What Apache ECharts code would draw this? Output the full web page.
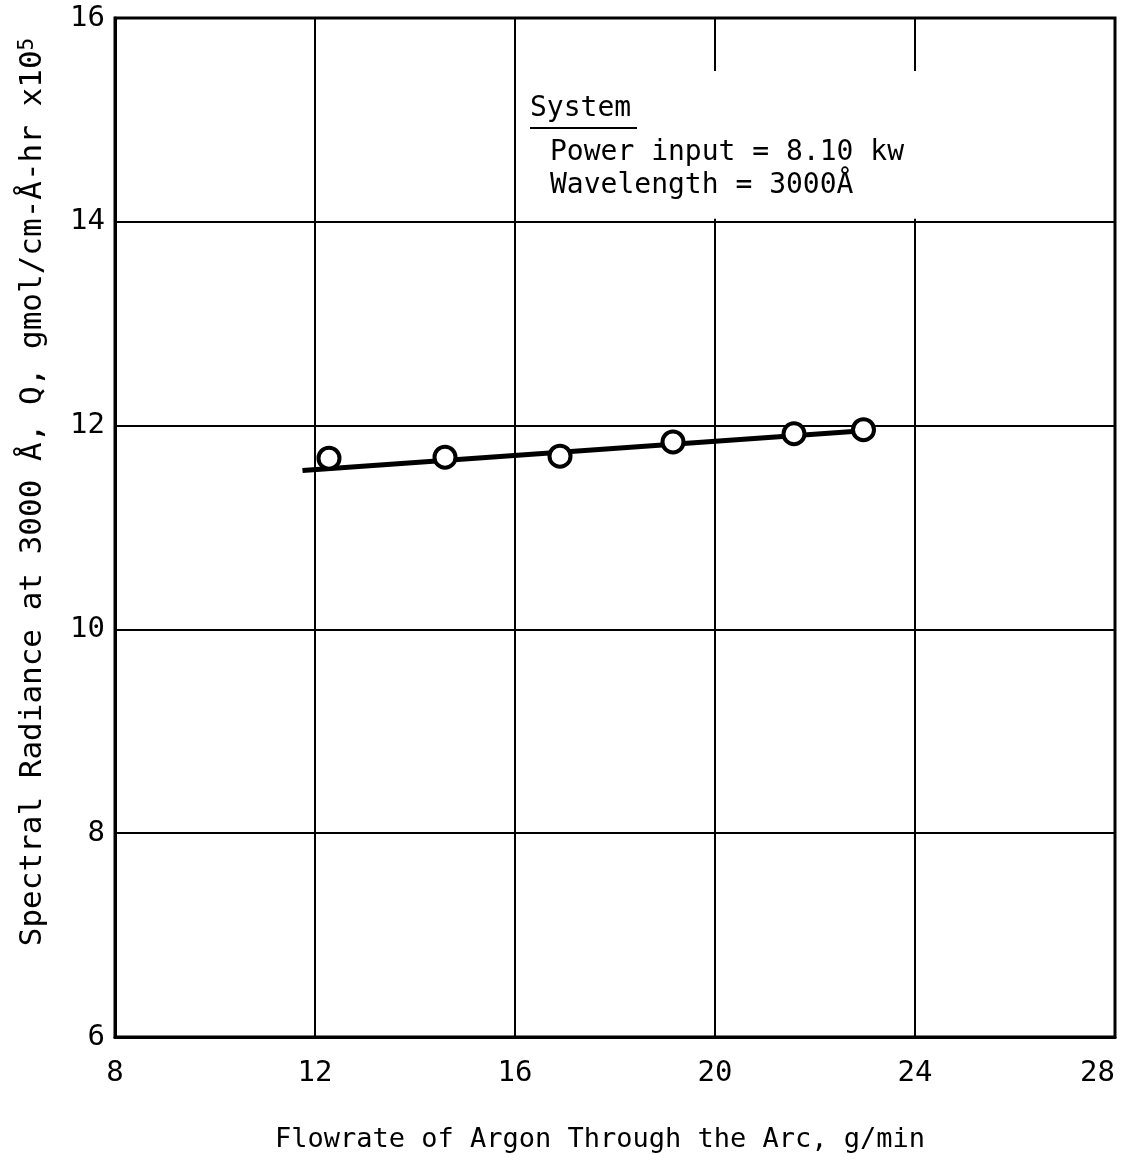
<!DOCTYPE html>
<html>
<head>
<meta charset="utf-8">
<script src="https://cdn.jsdelivr.net/npm/echarts@6/dist/echarts.min.js"></script>
<style>html,body{margin:0;padding:0;background:#fff;overflow:hidden}#c{width:1124px;height:1162px}</style>
</head>
<body>
<div id="c"></div>
<script>
// Data
const flowrate = [12.28, 14.6, 16.9, 19.16, 21.58, 22.97];
const radiance = [11.68, 11.69, 11.70, 11.84, 11.92, 11.96];
const fitX = [11.75, 22.97];
const fitY = [11.56, 11.95];
const xTicks = {min: 8, max: 28, interval: 4};
const yTicks = {min: 6, max: 16, interval: 2};
// region where the drawn grid lines are interrupted (behind the annotation)
const gapX = [19.8, 24.4];
const gapY = [14.03, 15.48];

const FONT = '"DejaVu Sans Mono", "Liberation Mono", monospace';
const chart = echarts.init(document.getElementById('c'), null, {renderer: 'canvas', width: 1124, height: 1162});

chart.setOption({
  backgroundColor: '#fff',
  animation: false,
  grid: {left: 115, top: 18, right: 9, bottom: 125, outerBoundsMode: 'none', containLabel: false,
         show: true, borderColor: '#000', borderWidth: 3, backgroundColor: 'transparent'},
  xAxis: {
    type: 'value', min: xTicks.min, max: xTicks.max, interval: xTicks.interval,
    axisLine: {show: true, lineStyle: {color: '#000', width: 3}},
    axisTick: {show: false},
    splitLine: {show: true, lineStyle: {color: '#000', width: 2}},
    axisLabel: {color: '#000', fontSize: 29, fontFamily: FONT, margin: 22, alignMaxLabel: 'right'}
  },
  yAxis: {
    type: 'value', min: yTicks.min, max: yTicks.max, interval: yTicks.interval,
    axisLine: {show: true, lineStyle: {color: '#000', width: 3}},
    axisTick: {show: false},
    splitLine: {show: true, lineStyle: {color: '#000', width: 2}},
    axisLabel: {color: '#000', fontSize: 29, fontFamily: FONT, margin: 10}
  },
  series: [
    {
      type: 'line',
      data: fitX.map((x, i) => [x, fitY[i]]),
      symbol: 'none',
      lineStyle: {color: '#000', width: 5},
      z: 2,
      markArea: {
        silent: true,
        itemStyle: {color: '#fff', borderWidth: 0},
        data: [[{coord: [gapX[0], gapY[0]]}, {coord: [gapX[1], gapY[1]]}]]
      }
    },
    {
      type: 'scatter',
      data: flowrate.map((x, i) => [x, radiance[i]]),
      symbol: 'circle',
      symbolSize: 21,
      itemStyle: {color: '#fff', borderColor: '#000', borderWidth: 4, opacity: 1},
      z: 5
    }
  ],
  graphic: [
    {type: 'text', z: 100, left: 530, top: 95, style: {text: 'System', font: '28px ' + FONT, fill: '#000'}},
    {type: 'line', z: 100, shape: {x1: 530, y1: 128, x2: 637, y2: 128}, style: {stroke: '#000', lineWidth: 2}},
    {type: 'text', z: 100, left: 550, top: 139, style: {text: 'Power input = 8.10 kw', font: '28px ' + FONT, fill: '#000'}},
    {type: 'text', z: 100, left: 550, top: 172, style: {text: 'Wavelength = 3000Å', font: '28px ' + FONT, fill: '#000'}},
    {type: 'text', z: 100, x: 600, y: 1140, style: {text: 'Flowrate of Argon Through the Arc, g/min', font: '27px ' + FONT, fill: '#000', align: 'center', verticalAlign: 'middle'}},
    {type: 'text', z: 100, x: 33, y: 492, rotation: Math.PI / 2,
      style: {
        text: '{a|Spectral Radiance at 3000 Å, Q, gmol/cm-Å-hr x10}{s|5}',
        align: 'center', verticalAlign: 'middle',
        rich: {
          a: {font: '31px ' + FONT, fill: '#000', verticalAlign: 'bottom'},
          s: {font: '21px ' + FONT, fill: '#000', verticalAlign: 'top'}
        }
      }
    }
  ]
});
</script>
</body>
</html>
